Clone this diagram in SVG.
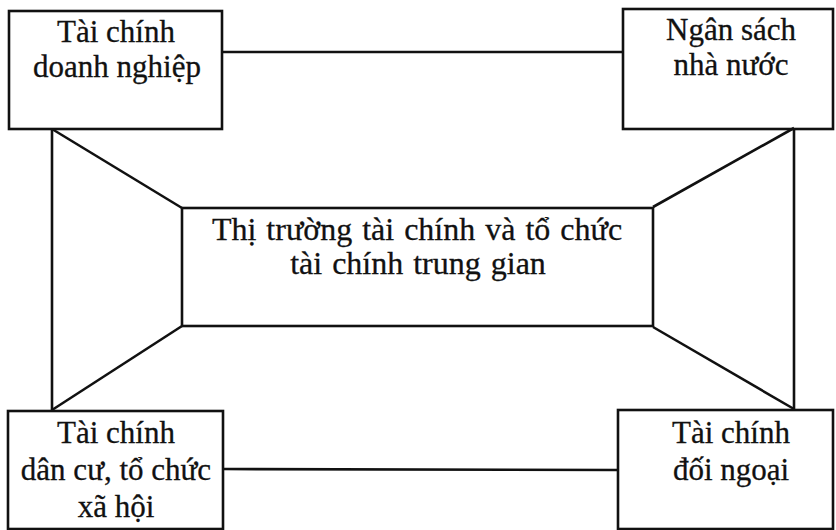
<svg xmlns="http://www.w3.org/2000/svg" width="836" height="530" viewBox="0 0 836 530">
<style>
.box{fill:none;stroke:#111;stroke-width:2.6}
.ln{fill:none;stroke:#111;stroke-width:2.6}
text{font-family:"Liberation Serif","Times New Roman",serif;font-size:31px;fill:#111;stroke:#111;stroke-width:0.3;text-anchor:middle}
.big{font-size:32px;word-spacing:2px}
</style>
<rect width="836" height="530" fill="#fff"/>
<g id="connectors">
<line class="ln" x1="222" y1="52" x2="623" y2="52"/>
<line class="ln" x1="223" y1="469" x2="618" y2="470"/>
<line class="ln" x1="52" y1="129" x2="52" y2="410"/>
<line class="ln" x1="52" y1="129" x2="182" y2="208"/>
<line class="ln" x1="52" y1="410" x2="182" y2="326"/>
<line class="ln" x1="794" y1="128" x2="794" y2="409"/>
<line class="ln" x1="794" y1="128" x2="653" y2="207"/>
<line class="ln" x1="794" y1="409" x2="653" y2="327"/>
</g>
<g id="tc-doanh-nghiep">
<rect class="box" x="9" y="11" width="213" height="118"/>
<text x="116" y="42">Tài chính</text>
<text x="117" y="77">doanh nghiệp</text>
</g>
<g id="ngan-sach">
<rect class="box" x="623" y="9" width="210" height="120"/>
<text x="731" y="40">Ngân sách</text>
<text x="731" y="75">nhà nước</text>
</g>
<g id="thi-truong">
<rect class="box" x="182" y="208" width="471" height="118"/>
<text class="big" x="417" y="240">Thị trường tài chính và tổ chức</text>
<text class="big" x="418" y="274">tài chính trung gian</text>
</g>
<g id="tc-dan-cu">
<rect class="box" x="8" y="411" width="215" height="118"/>
<text x="116" y="443">Tài chính</text>
<text x="116" y="480">dân cư, tổ chức</text>
<text x="116" y="517">xã hội</text>
</g>
<g id="tc-doi-ngoai">
<rect class="box" x="618" y="410" width="215" height="119"/>
<text x="731" y="443">Tài chính</text>
<text x="731" y="480">đối ngoại</text>
</g>
</svg>
